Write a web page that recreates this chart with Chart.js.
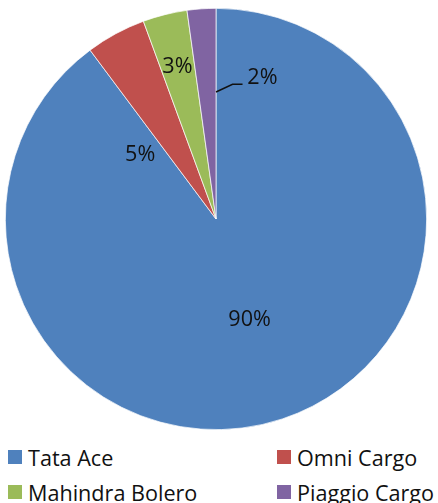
<!DOCTYPE html>
<html>
<head>
<meta charset="utf-8">
<script src="https://cdn.jsdelivr.net/npm/chart.js@4.4.1/dist/chart.umd.min.js"></script>
<style>
  html, body { margin: 0; padding: 0; background: #fff; }
  body { width: 438px; height: 503px; overflow: hidden; position: relative; font-family: "Open Sans", sans-serif; }
  #wrap { position: absolute; left: 0; top: 0; width: 438px; height: 440px; }
  .item { position: absolute; height: 24px; display: flex; align-items: center; font-size: 21.6px; color: #111; white-space: nowrap; }
  .box { width: 14px; height: 14px; margin-right: 6px; flex: none; }
</style>
</head>
<body>
<div id="wrap"><canvas id="pie"></canvas></div>
<div id="legend"></div>
<script>
const vehicles = ["Tata Ace", "Omni Cargo", "Mahindra Bolero", "Piaggio Cargo"];
const shares = [89.8, 4.6, 3.4, 2.2];
const sliceColors = ["#4F81BD", "#C0504D", "#9BBB59", "#8064A2"];

// where each % label sits: degrees clockwise from 12 o'clock, fraction of radius
const labelSpots = [
  { angle: 161.6, r: 0.506 },
  { angle: -49.8, r: 0.471 },
  { angle: -14.2, r: 0.746 },
  { angle: 18.2, r: 0.705 },
];

const toRad = (deg) => (deg - 90) * Math.PI / 180;

const sliceLabels = {
  id: "sliceLabels",
  afterDatasetsDraw(chart) {
    const ctx = chart.ctx;
    const arcs = chart.getDatasetMeta(0).data;
    const total = shares.reduce((a, b) => a + b, 0);
    ctx.save();
    ctx.font = "21.6px 'Open Sans'";
    ctx.fillStyle = "#111";
    ctx.textAlign = "center";
    ctx.textBaseline = "middle";
    arcs.forEach((arc, i) => {
      const { x, y, outerRadius } = arc.getProps(["x", "y", "outerRadius"], true);
      const spot = labelSpots[i];
      const a = toRad(spot.angle);
      ctx.fillText(Math.round(shares[i] / total * 100) + "%",
        x + Math.cos(a) * spot.r * outerRadius,
        y + Math.sin(a) * spot.r * outerRadius);
    });

    // leader line for the small purple slice
    const last = arcs[arcs.length - 1];
    const { x, y, outerRadius, endAngle } = last.getProps(["x", "y", "outerRadius", "endAngle"], true);
    const sx = x + Math.cos(endAngle) * 0.603 * outerRadius;
    const sy = y + Math.sin(endAngle) * 0.603 * outerRadius;
    const bend = toRad(7.0);
    const bx = x + Math.cos(bend) * 0.644 * outerRadius;
    const by = y + Math.sin(bend) * 0.644 * outerRadius;
    ctx.strokeStyle = "#111";
    ctx.lineWidth = 1.5;
    ctx.beginPath();
    ctx.moveTo(sx, sy);
    ctx.lineTo(bx, by);
    ctx.lineTo(bx + 10, by);
    ctx.stroke();
    ctx.restore();
  },
};

const chart = new Chart(document.getElementById("pie"), {
  type: "pie",
  data: {
    labels: vehicles,
    datasets: [
      {
        data: shares,
        backgroundColor: sliceColors,
        borderColor: "#ffffff",
        borderWidth: 0.7,
      },
    ],
  },
  options: {
    responsive: true,
    maintainAspectRatio: false,
    animation: false,
    layout: { padding: { left: 5, right: 11, top: 8, bottom: 10 } },
    plugins: {
      legend: { display: false },
      tooltip: { enabled: false },
    },
  },
  plugins: [sliceLabels],
});

// legend in two columns under the pie
const legendCols = [8, 277];
const legendRows = [457, 492];
const legend = document.getElementById("legend");
vehicles.forEach((name, i) => {
  const item = document.createElement("div");
  item.className = "item";
  item.style.left = legendCols[i % 2] + "px";
  item.style.top = legendRows[Math.floor(i / 2)] - 12 + "px";
  const box = document.createElement("span");
  box.className = "box";
  box.style.background = sliceColors[i];
  item.appendChild(box);
  item.appendChild(document.createTextNode(name));
  legend.appendChild(item);
});
</script>
</body>
</html>
